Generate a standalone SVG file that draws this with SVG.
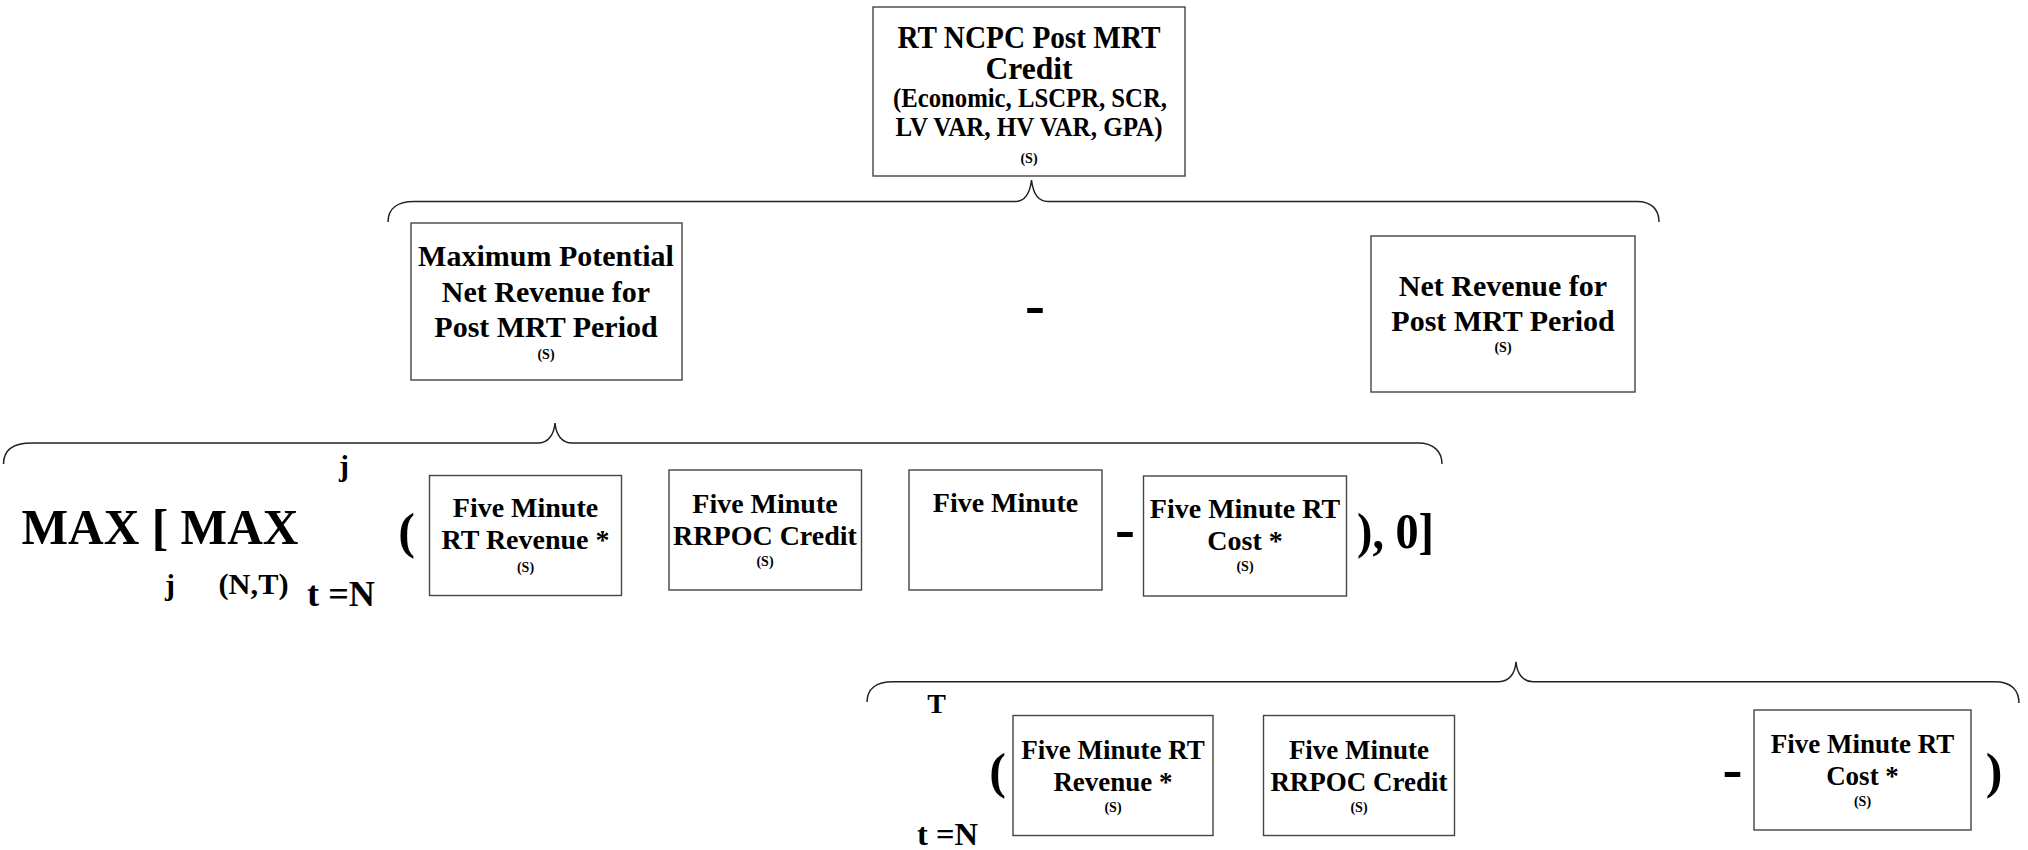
<svg xmlns="http://www.w3.org/2000/svg" width="2028" height="850" viewBox="0 0 2028 850">
<style>
  .box { fill: #ffffff; stroke: #444444; stroke-width: 1.4; }
  .brace { fill: none; stroke: #222222; stroke-width: 1.5; }
  text { font-family: "Liberation Serif", "Times New Roman", serif; font-weight: bold; fill: #000000; }
  .c { text-anchor: middle; }
  .s { font-size: 14px; }
  .t28 { font-size: 28px; }
  .t27 { font-size: 27px; }
  .t30 { font-size: 30px; }
  .big { font-size: 50px; }
  .minus { font-size: 60px; text-anchor: middle; }
</style>
<rect width="2028" height="850" fill="#ffffff"/>

<g id="connectors">
  <path class="brace" d="M388,222 C388,208 398,201.5 414,201.5 L1015,201.5 C1025,201.5 1030,193 1031.5,180 C1033,193 1038,201.5 1048,201.5 L1637,201.5 C1651,201.5 1659,209 1659,222"/>
  <path class="brace" d="M3.5,464 C3.5,450 13,443 32,443 L538,443 C548,443 554,435 555,423 C556,435 562,443 572,443 L1418,443 C1433,443 1442,451 1442,464"/>
  <path class="brace" d="M867,702 C867,689 876,681.7 893,681.7 L1499,681.7 C1509,681.7 1515,674 1516,661.7 C1517,674 1523,681.7 1533,681.7 L1995,681.7 C2011,681.7 2019,690 2019,703"/>
</g>

<g id="node-rt-ncpc">
  <rect class="box" x="873" y="7" width="312" height="169"/>
  <text class="c" x="1029" y="48" font-size="31" textLength="263" lengthAdjust="spacingAndGlyphs">RT NCPC Post MRT</text>
  <text class="c" x="1029" y="79" font-size="31" textLength="87" lengthAdjust="spacingAndGlyphs">Credit</text>
  <text class="c" x="1030" y="107" font-size="27" textLength="274" lengthAdjust="spacingAndGlyphs">(Economic, LSCPR, SCR,</text>
  <text class="c" x="1029" y="136" font-size="27" textLength="267" lengthAdjust="spacingAndGlyphs">LV VAR, HV VAR, GPA)</text>
  <text class="c s" x="1029" y="163">(S)</text>
</g>

<g id="node-max-potential">
  <rect class="box" x="411" y="223" width="271" height="157"/>
  <text class="c t30" x="546" y="266">Maximum Potential</text>
  <text class="c t30" x="546" y="301.5">Net Revenue for</text>
  <text class="c t30" x="546" y="336.5">Post MRT Period</text>
  <text class="c s" x="546" y="359">(S)</text>
</g>

<g id="op-minus-1">
  <text class="minus" x="1035" y="323.5">-</text>
</g>

<g id="node-net-revenue">
  <rect class="box" x="1371" y="236" width="264" height="156"/>
  <text class="c t30" x="1503" y="296">Net Revenue for</text>
  <text class="c t30" x="1503" y="330.7">Post MRT Period</text>
  <text class="c s" x="1503" y="352">(S)</text>
</g>

<g id="formula-max">
  <text x="21.5" y="544" class="big" textLength="277" lengthAdjust="spacingAndGlyphs">MAX [ MAX</text>
  <text class="c t30" x="344" y="476">j</text>
  <text class="c t30" x="170" y="595">j</text>
  <text x="218.5" y="594" font-size="29" textLength="70" lengthAdjust="spacingAndGlyphs">(N,T)</text>
  <text x="307" y="606" font-size="36" textLength="68" lengthAdjust="spacingAndGlyphs">t =N</text>
  <text class="c big" x="406.5" y="548">(</text>
</g>

<g id="node-rt-revenue-1">
  <rect class="box" x="429.5" y="475.5" width="192" height="120"/>
  <text class="c t28" x="525.5" y="517">Five Minute</text>
  <text class="c t28" x="525.5" y="549">RT Revenue *</text>
  <text class="c s" x="525.5" y="572">(S)</text>
</g>

<g id="node-rrpoc-1">
  <rect class="box" x="669" y="470" width="192.5" height="120"/>
  <text class="c t28" x="765" y="513">Five Minute</text>
  <text class="c t28" x="765" y="545">RRPOC Credit</text>
  <text class="c s" x="765" y="566">(S)</text>
</g>

<g id="node-five-minute">
  <rect class="box" x="909" y="470" width="193" height="120"/>
  <text class="c t28" x="1005.5" y="512">Five Minute</text>
</g>

<g id="op-minus-2">
  <text class="minus" x="1125" y="547.5">-</text>
</g>

<g id="node-rt-cost-1">
  <rect class="box" x="1143.5" y="476" width="203" height="120"/>
  <text class="c t28" x="1245" y="518">Five Minute RT</text>
  <text class="c t28" x="1245" y="550">Cost *</text>
  <text class="c s" x="1245" y="571">(S)</text>
</g>

<g id="formula-close">
  <text x="1357" y="548" class="big" textLength="77" lengthAdjust="spacingAndGlyphs">), 0]</text>
</g>

<g id="formula-sum">
  <text class="c t28" x="936.5" y="713">T</text>
  <text x="917" y="845" font-size="32" textLength="61" lengthAdjust="spacingAndGlyphs">t =N</text>
  <text class="c big" x="997.5" y="788">(</text>
</g>

<g id="node-rt-revenue-2">
  <rect class="box" x="1013" y="715.5" width="200" height="120"/>
  <text class="c t27" x="1113" y="759">Five Minute RT</text>
  <text class="c t27" x="1113" y="790.7">Revenue *</text>
  <text class="c s" x="1113" y="812">(S)</text>
</g>

<g id="node-rrpoc-2">
  <rect class="box" x="1263.5" y="715.5" width="191" height="120"/>
  <text class="c t27" x="1359" y="759">Five Minute</text>
  <text class="c t27" x="1359" y="790.7">RRPOC Credit</text>
  <text class="c s" x="1359" y="812">(S)</text>
</g>

<g id="op-minus-3">
  <text class="minus" x="1732.5" y="787.5">-</text>
</g>

<g id="node-rt-cost-2">
  <rect class="box" x="1754" y="710" width="217" height="120"/>
  <text class="c t27" x="1862.5" y="752.7">Five Minute RT</text>
  <text class="c t27" x="1862.5" y="785">Cost *</text>
  <text class="c s" x="1862.5" y="806">(S)</text>
</g>

<g id="formula-sum-close">
  <text class="c big" x="1994" y="788">)</text>
</g>
</svg>
